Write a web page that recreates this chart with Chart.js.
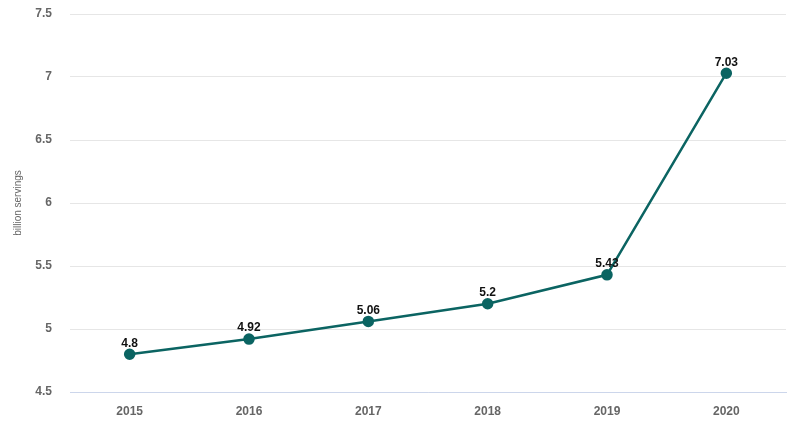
<!DOCTYPE html>
<html>
<head>
<meta charset="utf-8">
<script src="https://cdn.jsdelivr.net/npm/chart.js@4"></script>
<style>
  html, body { margin: 0; padding: 0; background: #fff; }
</style>
</head>
<body>
<canvas id="myChart" width="800" height="427"></canvas>
<script>
const years = ['2015', '2016', '2017', '2018', '2019', '2020'];
const servings = [4.8, 4.92, 5.06, 5.2, 5.43, 7.03];
const yTicks = [4.5, 5, 5.5, 6, 6.5, 7, 7.5];

// draws the value above every point
const valueLabels = {
    id: 'valueLabels',
    afterDatasetsDraw(chart){
        const ctx = chart.ctx;
        const meta = chart.getDatasetMeta(0);
        ctx.save();
        ctx.font = 'bold 12px "Liberation Sans", Arial, sans-serif';
        ctx.fillStyle = '#111';
        ctx.textAlign = 'center';
        ctx.textBaseline = 'bottom';
        for(let i = 0; i < meta.data.length; i++){
            const pt = meta.data[i];
            ctx.fillText(String(servings[i]), pt.x, pt.y - 5);
        }
        ctx.restore();
    }
};

const tickFont = { family: '"Liberation Sans", Arial, sans-serif', size: 12, weight: 'bold' };

new Chart(document.getElementById('myChart'), {
    type: 'line',
    data: {
        labels: years,
        datasets: [{
            data: servings,
            borderColor: '#0b6462',
            backgroundColor: '#0b6462',
            borderWidth: 2.5,
            pointRadius: 4.5,
            pointHoverRadius: 4.5,
            tension: 0
        }]
    },
    options: {
        responsive: false,
        animation: false,
        devicePixelRatio: 1,
        layout: { padding: { top: 14, right: 14, left: 0, bottom: 0 } },
        plugins: { legend: { display: false }, tooltip: { enabled: false } },
        scales: {
            x: {
                offset: true,
                grid: { display: false, drawTicks: false, offset: true },
                border: { color: '#ccd6eb', width: 1 },
                ticks: { color: '#666', font: tickFont, padding: 12 },
                afterFit(scale){ scale.height = 35; }
            },
            y: {
                min: 4.5,
                max: 7.5,
                afterBuildTicks(scale){ scale.ticks = yTicks.map(v => ({ value: v })); },
                grid: { color: '#e6e6e6', drawTicks: false },
                border: { display: false },
                ticks: {
                    color: '#666',
                    font: tickFont,
                    padding: 18,
                    callback: v => String(v)
                },
                title: {
                    display: true,
                    text: 'billion servings',
                    color: '#666',
                    font: { family: '"Liberation Sans", Arial, sans-serif', size: 10 },
                    padding: { top: 12, bottom: 0 }
                },
                afterFit(scale){
                    scale.width = 70;
                    scale.paddingTop = 0;
                    scale.paddingBottom = 0;
                }
            }
        }
    },
    plugins: [valueLabels]
});
</script>
</body>
</html>
